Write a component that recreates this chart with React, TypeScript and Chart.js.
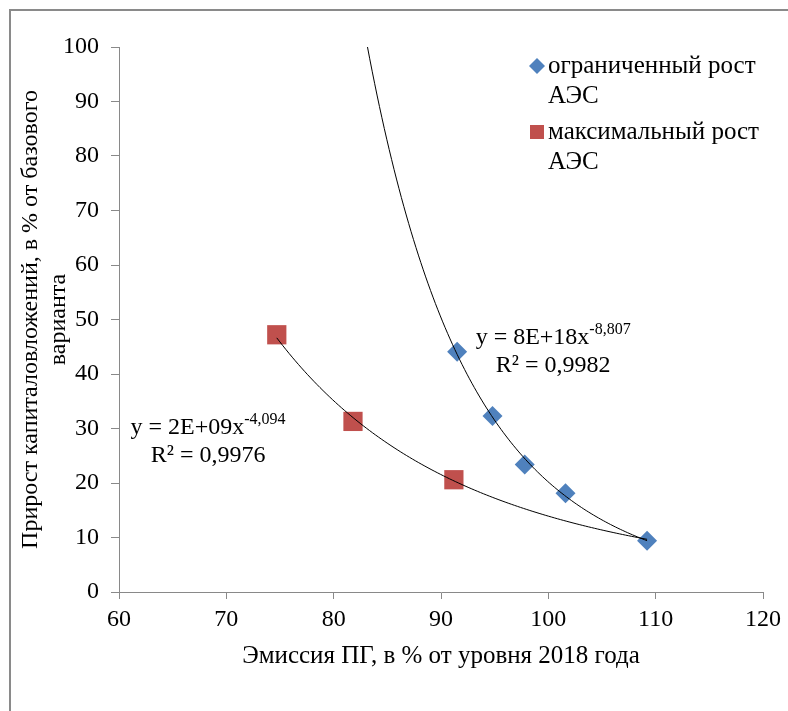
import React, { useEffect, useRef } from "react";
import { Chart, registerables } from "chart.js";

Chart.register(...registerables);

// ---- data ----
const limitedX = [91.5, 94.8, 97.8, 101.6, 109.2];
const limitedY = [44.1, 32.3, 23.4, 18.1, 9.4];
const maximalX = [74.7, 81.8, 91.2];
const maximalY = [47.2, 31.3, 20.6];

const seriesNames = ["ограниченный рост АЭС", "максимальный рост АЭС"];
const legendLines = [
  ["ограниченный рост", "АЭС"],
  ["максимальный рост", "АЭС"],
];
const seriesColors = ["#4F81BD", "#C0504D"];

// trendline ranges (forecast backward / forward as in the source)
const limitedTrendRange = [82.0, 109.2];
const maximalTrendRange = [74.7, 109.2];

const limitedEquation = ["y = 8E+18x", "-8,807", "R² = 0,9982"];
const maximalEquation = ["y = 2E+09x", "-4,094", "R² = 0,9976"];
const limitedEqAnchor = [100.45, 46.6];
const maximalEqAnchor = [68.3, 30.1];

const xTitle = "Эмиссия ПГ, в % от уровня 2018 года";
const yTitle = ["Прирост капиталовложений, в % от базового", "варианта"];

const xMin = 60, xMax = 120, xStep = 10;
const yMin = 0, yMax = 100, yStep = 10;

const FONT = "'Liberation Serif', 'Times New Roman', serif";
const AXIS_COLOR = "#898989";

function fitPower(xs: number[], ys: number[]) {
  const lx = xs.map(Math.log);
  const ly = ys.map(Math.log);
  const n = xs.length;
  const mx = lx.reduce((s, v) => s + v, 0) / n;
  const my = ly.reduce((s, v) => s + v, 0) / n;
  let sxy = 0, sxx = 0;
  for (let i = 0; i < n; i++) {
    sxy += (lx[i] - mx) * (ly[i] - my);
    sxx += (lx[i] - mx) * (lx[i] - mx);
  }
  const b = sxy / sxx;
  const lnA = my - b * mx;
  return (x: number) => Math.exp(lnA + b * Math.log(x));
}

function trendPoints(xs: number[], ys: number[], range: number[]) {
  const f = fitPower(xs, ys);
  const pts: { x: number; y: number }[] = [];
  const N = 120;
  for (let i = 0; i <= N; i++) {
    const x = range[0] + ((range[1] - range[0]) * i) / N;
    pts.push({ x, y: f(x) });
  }
  return pts;
}

const framePlugin = {
  id: "frame",
  beforeDraw(chart: any) {
    const ctx = chart.ctx;
    ctx.save();
    ctx.fillStyle = "#ffffff";
    ctx.fillRect(0, 0, chart.width, chart.height);
    ctx.fillStyle = "#8a8a8a";
    ctx.fillRect(9, 9, chart.width - 9, 2);
    ctx.fillRect(9, 9, 2, chart.height - 9);
    ctx.restore();
  },
};

function drawEquation(chart: any, eq: string[], anchor: number[]) {
  const ctx = chart.ctx;
  const xs = chart.scales.x;
  const ys = chart.scales.y;
  const cx = xs.getPixelForValue(anchor[0]);
  const cy = ys.getPixelForValue(anchor[1]);
  ctx.save();
  ctx.fillStyle = "#000";
  ctx.textBaseline = "middle";
  ctx.textAlign = "left";
  ctx.font = `24px ${FONT}`;
  const wMain = ctx.measureText(eq[0]).width;
  ctx.font = `16px ${FONT}`;
  const wSup = ctx.measureText(eq[1]).width;
  const start = cx - (wMain + wSup) / 2;
  ctx.font = `24px ${FONT}`;
  ctx.fillText(eq[0], start, cy);
  ctx.font = `16px ${FONT}`;
  ctx.fillText(eq[1], start + wMain, cy - 8);
  ctx.font = `24px ${FONT}`;
  ctx.textAlign = "center";
  ctx.fillText(eq[2], cx, cy + 28);
  ctx.restore();
}

const annotationPlugin = {
  id: "annot",
  afterDatasetsDraw(chart: any) {
    drawEquation(chart, limitedEquation, limitedEqAnchor);
    drawEquation(chart, maximalEquation, maximalEqAnchor);
  },
};

const legendPlugin = {
  id: "customLegend",
  afterDraw(chart: any) {
    const ctx = chart.ctx;
    const markerX = 537;
    const textX = 548;
    const tops = [66, 132];
    ctx.save();
    legendLines.forEach((lines, i) => {
      const y0 = tops[i];
      ctx.fillStyle = seriesColors[i];
      if (i === 0) {
        const r = 8;
        ctx.beginPath();
        ctx.moveTo(markerX - r, y0);
        ctx.lineTo(markerX, y0 - r);
        ctx.lineTo(markerX + r, y0);
        ctx.lineTo(markerX, y0 + r);
        ctx.closePath();
        ctx.fill();
      } else {
        ctx.fillRect(markerX - 7, y0 - 7, 14, 14);
      }
      ctx.fillStyle = "#000";
      ctx.font = `25px ${FONT}`;
      ctx.textBaseline = "middle";
      ctx.textAlign = "left";
      lines.forEach((t, j) => ctx.fillText(t, textX, y0 + j * 30));
    });
    ctx.restore();
  },
};

export default function App() {
  const ref = useRef<HTMLCanvasElement | null>(null);
  useEffect(() => {
    if (!ref.current) return;
    const chart = new Chart(ref.current, {
      type: "scatter",
      data: {
        datasets: [
          {
            type: "line",
            label: "trend1",
            data: trendPoints(limitedX, limitedY, limitedTrendRange),
            borderColor: "#000",
            borderWidth: 1,
            pointRadius: 0,
            fill: false,
            order: 0,
          } as any,
          {
            type: "line",
            label: "trend2",
            data: trendPoints(maximalX, maximalY, maximalTrendRange),
            borderColor: "#000",
            borderWidth: 1,
            pointRadius: 0,
            fill: false,
            order: 0,
          } as any,
          {
            label: seriesNames[0],
            data: limitedX.map((x, i) => ({ x, y: limitedY[i] })),
            pointStyle: "rectRot",
            pointRadius: 10,
            backgroundColor: seriesColors[0],
            borderColor: seriesColors[0],
            borderWidth: 0,
            order: 1,
          },
          {
            label: seriesNames[1],
            data: maximalX.map((x, i) => ({ x, y: maximalY[i] })),
            pointStyle: "rect",
            pointRadius: 13.6,
            backgroundColor: seriesColors[1],
            borderColor: seriesColors[1],
            borderWidth: 0,
            order: 1,
          },
        ],
      },
      options: {
        responsive: false,
        animation: false,
        devicePixelRatio: 1,
        layout: { padding: { left: 0, top: 47, right: 25, bottom: 0 } },
        plugins: {
          legend: { display: false },
          tooltip: { enabled: false },
        },
        scales: {
          x: {
            type: "linear",
            min: xMin,
            max: xMax,
            afterFit(scale: any) {
              scale.height = 119;
            },
            ticks: {
              stepSize: xStep,
              color: "#000",
              font: { family: FONT, size: 24 },
              padding: 6,
            },
            grid: {
              drawOnChartArea: false,
              drawTicks: true,
              tickLength: 7,
              color: AXIS_COLOR,
            },
            border: { display: true, color: AXIS_COLOR, width: 1 },
            title: {
              display: true,
              text: xTitle,
              color: "#000",
              font: { family: FONT, size: 25, lineHeight: 1.15 },
              padding: { top: 0, bottom: 40 },
            },
          },
          y: {
            type: "linear",
            min: yMin,
            max: yMax,
            afterFit(scale: any) {
              scale.width = 119;
            },
            ticks: {
              stepSize: yStep,
              color: "#000",
              font: { family: FONT, size: 24 },
              padding: 12,
            },
            grid: {
              drawOnChartArea: false,
              drawTicks: true,
              tickLength: 8,
              color: AXIS_COLOR,
            },
            border: { display: true, color: AXIS_COLOR, width: 1 },
            title: {
              display: true,
              text: yTitle,
              color: "#000",
              font: { family: FONT, size: 24, lineHeight: 1.2 },
              padding: { top: 16, bottom: 0 },
            },
          },
        },
      },
      plugins: [framePlugin, annotationPlugin, legendPlugin],
    } as any);
    return () => chart.destroy();
  }, []);
  return (
    <div style={{ position: "fixed", left: 0, top: 0, width: 788, height: 711 }}>
      <canvas ref={ref} width={788} height={711} style={{ width: 788, height: 711, display: "block" }} />
    </div>
  );
}
